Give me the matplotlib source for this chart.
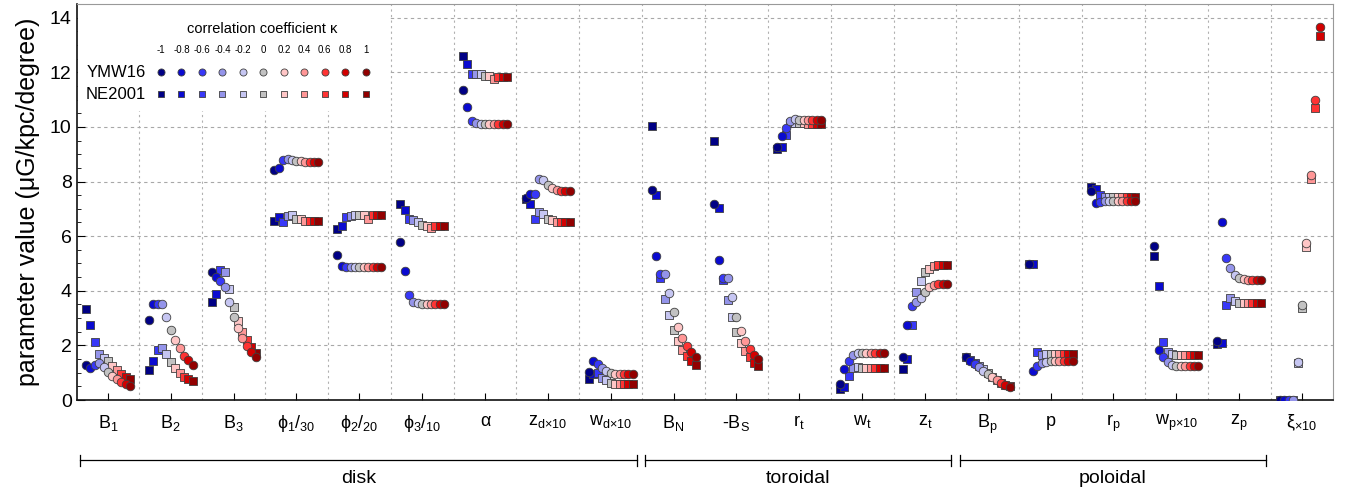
import numpy as np
import matplotlib
matplotlib.use("Agg")
import matplotlib.pyplot as plt
from matplotlib.patches import Rectangle
from matplotlib.transforms import blended_transform_factory

plt.rcParams['font.family'] = ['Liberation Sans', 'DejaVu Sans']
plt.rcParams['mathtext.fontset'] = 'custom'
plt.rcParams['mathtext.rm'] = 'Liberation Sans'
plt.rcParams['mathtext.it'] = 'Liberation Sans:italic'
plt.rcParams['mathtext.default'] = 'regular'

# parameter names (x axis)
labels = ['B$_1$', 'B$_2$', 'B$_3$', 'ϕ$_1$/$_{30}$', 'ϕ$_2$/$_{20}$', 'ϕ$_3$/$_{10}$',
          'α', 'z$_{d×10}$', 'w$_{d×10}$',
          'B$_N$', '-B$_S$', 'r$_t$', 'w$_t$', 'z$_t$',
          'B$_p$', 'p', 'r$_p$', 'w$_{p×10}$', 'z$_p$', 'ξ$_{×10}$']

kappa = [-1, -0.8, -0.6, -0.4, -0.2, 0, 0.2, 0.4, 0.6, 0.8, 1]
kappa_colors = ['#000085', '#0a0ad0', '#3838f8', '#9494ea', '#c6c6f2', '#c2c2c2',
                '#ffc6c6', '#ff9696', '#ff3434', '#d20000', '#920000']

# values per parameter, one entry per kappa
ymw16 = [
    [1.28, 1.18, 1.27, 1.37, 1.22, 1.04, 0.88, 0.77, 0.66, 0.59, 0.51],
    [2.93, 3.52, 3.52, 3.52, 3.05, 2.56, 2.19, 1.89, 1.62, 1.47, 1.29],
    [4.67, 4.52, 4.36, 4.13, 3.58, 3.05, 2.63, 2.26, 1.98, 1.77, 1.56],
    [8.43, 8.49, 8.79, 8.82, 8.78, 8.76, 8.74, 8.73, 8.72, 8.72, 8.72],
    [5.31, 4.91, 4.86, 4.87, 4.88, 4.88, 4.88, 4.88, 4.88, 4.88, 4.88],
    [5.79, 4.73, 3.84, 3.60, 3.54, 3.52, 3.52, 3.52, 3.52, 3.52, 3.52],
    [11.34, 10.72, 10.21, 10.14, 10.11, 10.11, 10.11, 10.11, 10.11, 10.11, 10.11],
    [7.39, 7.54, 7.53, 8.09, 8.06, 7.87, 7.75, 7.70, 7.67, 7.67, 7.67],
    [1.04, 1.44, 1.32, 1.18, 1.08, 1.00, 0.96, 0.94, 0.94, 0.94, 0.94],
    [7.69, 5.26, 4.62, 4.60, 3.93, 3.22, 2.66, 2.28, 1.98, 1.75, 1.56],
    [7.18, 5.13, 4.46, 4.45, 3.76, 3.05, 2.53, 2.17, 1.86, 1.65, 1.49],
    [9.26, 9.65, 9.95, 10.20, 10.28, 10.27, 10.27, 10.27, 10.27, 10.27, 10.27],
    [0.57, 1.15, 1.42, 1.64, 1.73, 1.71, 1.71, 1.71, 1.71, 1.71, 1.71],
    [1.59, 2.75, 3.46, 3.58, 3.75, 3.97, 4.12, 4.20, 4.25, 4.25, 4.25],
    [1.59, 1.42, 1.32, 1.20, 1.08, 0.95, 0.83, 0.72, 0.62, 0.54, 0.48],
    [4.98, 1.06, 1.25, 1.34, 1.39, 1.42, 1.42, 1.42, 1.42, 1.42, 1.42],
    [7.67, 7.23, 7.25, 7.27, 7.29, 7.29, 7.29, 7.29, 7.29, 7.29, 7.29],
    [5.64, 1.82, 1.59, 1.39, 1.29, 1.25, 1.25, 1.25, 1.25, 1.25, 1.25],
    [2.17, 6.50, 5.20, 4.83, 4.58, 4.48, 4.42, 4.40, 4.40, 4.40, 4.40],
    [0.0, 0.0, 0.0, 0.0, 1.39, 3.47, 5.76, 8.24, 11.00, 13.65, 16.3],
]
ne2001 = [
    [3.33, 2.75, 2.14, 1.67, 1.53, 1.43, 1.25, 1.10, 0.95, 0.85, 0.76],
    [1.10, 1.44, 1.83, 1.92, 1.69, 1.38, 1.16, 0.98, 0.85, 0.76, 0.68],
    [3.58, 3.88, 4.76, 4.68, 4.07, 3.42, 2.91, 2.48, 2.20, 1.95, 1.73],
    [6.57, 6.69, 6.52, 6.74, 6.77, 6.64, 6.62, 6.57, 6.57, 6.57, 6.57],
    [6.25, 6.37, 6.69, 6.74, 6.77, 6.77, 6.77, 6.62, 6.77, 6.77, 6.77],
    [7.18, 6.96, 6.62, 6.60, 6.52, 6.42, 6.37, 6.29, 6.37, 6.37, 6.37],
    [12.58, 12.31, 11.95, 11.95, 11.93, 11.85, 11.87, 11.75, 11.82, 11.82, 11.82],
    [7.36, 7.16, 6.64, 6.89, 6.82, 6.64, 6.60, 6.53, 6.53, 6.53, 6.53],
    [0.76, 0.95, 0.98, 0.82, 0.72, 0.64, 0.60, 0.59, 0.59, 0.59, 0.59],
    [10.02, 7.51, 4.46, 3.70, 3.11, 2.56, 2.17, 1.83, 1.62, 1.43, 1.28],
    [9.48, 7.02, 4.40, 3.66, 3.05, 2.50, 2.10, 1.81, 1.56, 1.37, 1.25],
    [9.18, 9.26, 9.72, 10.16, 10.15, 10.13, 10.13, 10.12, 10.12, 10.12, 10.12],
    [0.42, 0.49, 0.88, 1.17, 1.20, 1.16, 1.16, 1.16, 1.16, 1.16, 1.16],
    [1.15, 1.49, 2.75, 3.94, 4.35, 4.70, 4.80, 4.91, 4.95, 4.95, 4.95],
    [1.57, 1.47, 1.35, 1.25, 1.12, 0.98, 0.85, 0.74, 0.64, 0.56, 0.50],
    [4.98, 4.98, 1.75, 1.65, 1.69, 1.69, 1.69, 1.69, 1.69, 1.69, 1.69],
    [7.79, 7.72, 7.51, 7.43, 7.43, 7.43, 7.42, 7.42, 7.42, 7.42, 7.42],
    [5.26, 4.18, 2.11, 1.76, 1.69, 1.66, 1.66, 1.66, 1.66, 1.66, 1.66],
    [2.05, 2.07, 3.47, 3.72, 3.64, 3.54, 3.54, 3.54, 3.54, 3.54, 3.54],
    [0.0, 0.0, 0.0, 0.0, 1.34, 3.36, 5.62, 8.10, 10.69, 13.34, 16.0],
]

# parameter groups (first, last category index, 1-based)
groups = [('disk', 1, 9), ('toroidal', 10, 14), ('poloidal', 15, 19)]

fig = plt.figure(figsize=(13.45, 4.93), dpi=100)
ax = fig.add_axes([0.0569, 0.1886, 0.9345, 0.8033])

pos = np.arange(1, len(labels) + 1)
ymw16 = np.array(ymw16)
ne2001 = np.array(ne2001)
spread = 0.35
edge = '#404040'

for k, (kap, col) in enumerate(zip(kappa, kappa_colors)):
    x = pos + kap * spread
    ax.scatter(x, ne2001[:, k], marker='s', s=30, color=col, edgecolors=edge,
               linewidths=0.6, zorder=3)
for k, (kap, col) in enumerate(zip(kappa, kappa_colors)):
    x = pos + kap * spread
    ax.scatter(x, ymw16[:, k], marker='o', s=38, color=col, edgecolors=edge,
               linewidths=0.6, zorder=4)

ax.set_xlim(0.5, len(labels) + 0.5)
ax.set_ylim(0, 14.5)
ax.set_xticks(pos)
ax.set_xticklabels(labels, fontsize=13)
ax.set_xticks(pos[:-1] + 0.5, minor=True)
ax.set_yticks(np.arange(0, 15, 2))
ax.set_yticks(np.arange(0, 14.6, 0.5), minor=True)
ax.tick_params(axis='x', which='major', direction='in', length=5, pad=9, top=False)
ax.tick_params(axis='x', which='minor', length=0)
ax.tick_params(axis='y', which='major', direction='in', length=6, labelsize=14, right=False)
ax.tick_params(axis='y', which='minor', direction='in', length=3, right=False)
ax.set_ylabel('parameter value (μG/kpc/degree)', fontsize=18, labelpad=7)

ax.set_axisbelow(True)
ax.grid(axis='y', which='major', color='#a8a8a8', linestyle=(0, (3, 3)), linewidth=0.8)
ax.grid(axis='x', which='minor', color='#b0b0b0', linestyle=(0, (2, 3)), linewidth=0.8)

for side in ['top', 'right']:
    ax.spines[side].set_color('#999999')
for side in ['left', 'bottom']:
    ax.spines[side].set_color('#111111')
    ax.spines[side].set_linewidth(1.2)

# legend block in the upper-left corner
ax.add_patch(Rectangle((0.001, 0.73), 0.247, 0.268, transform=ax.transAxes,
                       facecolor='white', edgecolor='none', zorder=1))
ax.text(0.148, 0.937, 'correlation coefficient κ', transform=ax.transAxes,
        ha='center', va='center', fontsize=10.5, zorder=5)
for k, (kap, col) in enumerate(zip(kappa, kappa_colors)):
    lx = (84.5 + 20.47 * k) / 1257
    ax.text(lx, 0.884, f'{kap:g}', transform=ax.transAxes, ha='center', va='center',
            fontsize=7, zorder=5)
    ax.scatter([lx], [0.828], marker='o', s=26, color=col, edgecolors=edge,
               linewidths=0.6, transform=ax.transAxes, zorder=5, clip_on=False)
    ax.scatter([lx], [0.772], marker='s', s=22, color=col, edgecolors=edge,
               linewidths=0.6, transform=ax.transAxes, zorder=5, clip_on=False)
ax.text(0.0555, 0.828, 'YMW16', transform=ax.transAxes, ha='right', va='center',
        fontsize=12, zorder=5)
ax.text(0.0555, 0.772, 'NE2001', transform=ax.transAxes, ha='right', va='center',
        fontsize=12, zorder=5)

# group brackets under the tick labels
trans = blended_transform_factory(ax.transData, ax.transAxes)
for name, first, last in groups:
    x0, x1 = first - 0.45, last + 0.42
    ax.plot([x0, x1], [-0.152, -0.152], color='black', lw=0.9, transform=trans, clip_on=False)
    for xe in (x0, x1):
        ax.plot([xe, xe], [-0.166, -0.138], color='black', lw=0.9, transform=trans,
                clip_on=False)
    ax.text((x0 + x1) / 2, -0.198, name, transform=trans, ha='center', va='center',
            fontsize=14)

fig.savefig('out.png', dpi=100)
